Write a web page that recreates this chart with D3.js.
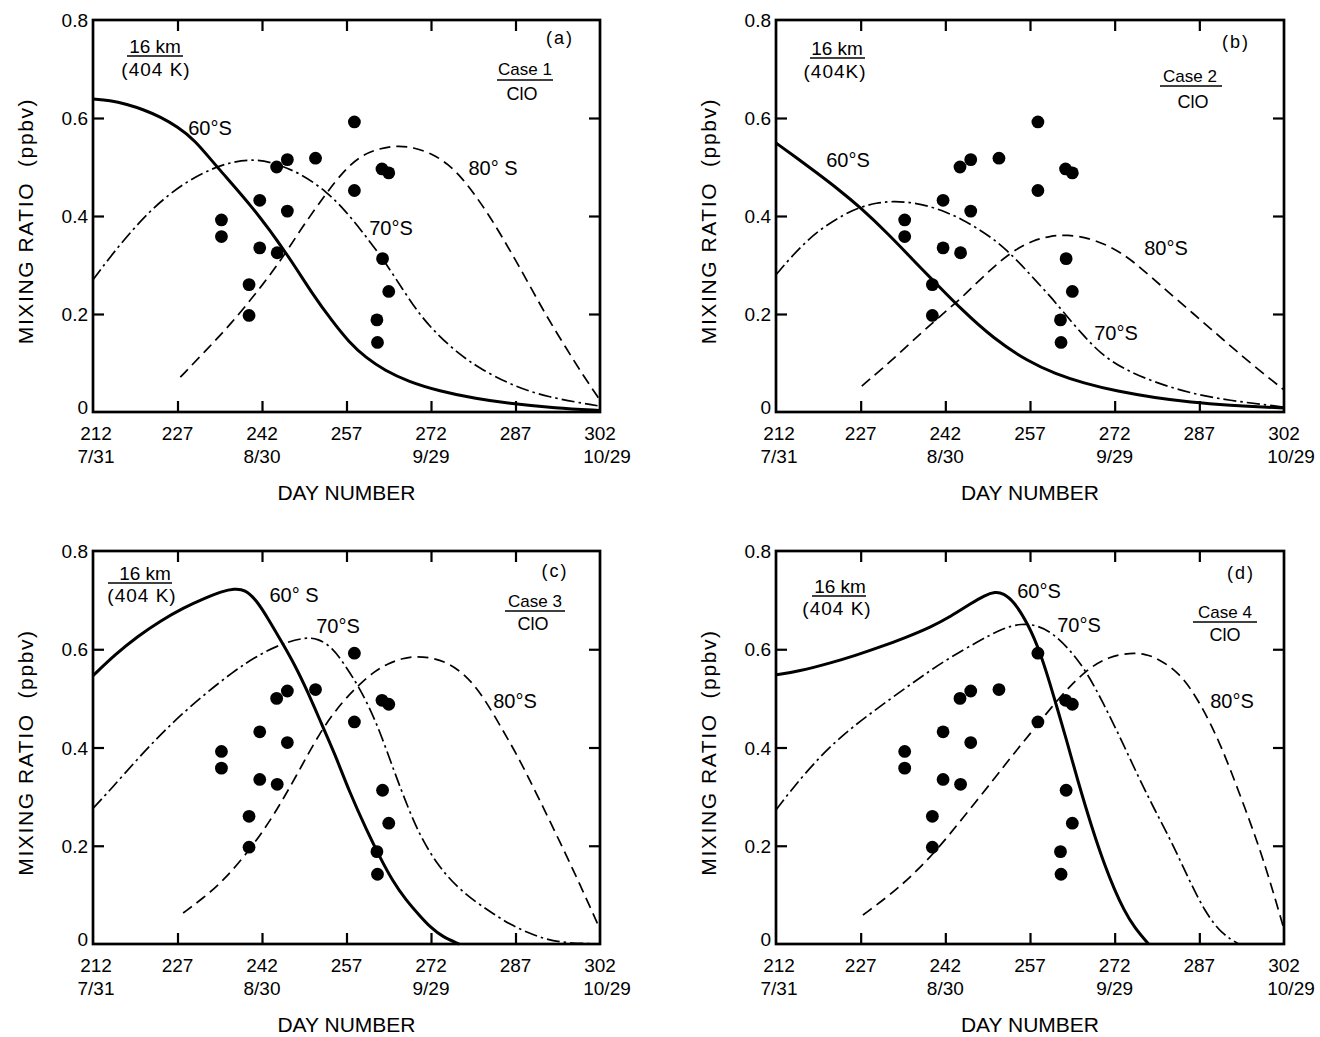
<!DOCTYPE html>
<html>
<head>
<meta charset="utf-8">
<script src="https://cdn.jsdelivr.net/npm/d3@7"></script>
<style>
  html, body { margin: 0; padding: 0; background: #fff; }
  svg text { font-family: "Liberation Sans", "DejaVu Sans", sans-serif; fill: #000; }
</style>
</head>
<body>
<svg id="chart" width="1320" height="1037"></svg>
<script>
// ---- axis ticks ----
const dayTicks = [212, 227, 242, 257, 272, 287, 302];
const dateTicks = [212, 242, 272, 302];
const dateLabels = ["7/31", "8/30", "9/29", "10/29"];
const ratioTicks = [0, 0.2, 0.4, 0.6, 0.8];
const ratioLabels = ["0", "0.2", "0.4", "0.6", "0.8"];

// ---- ClO observations (day number, ppbv), same in every panel ----
const cloDays   = [234.8, 234.8, 239.7, 239.7, 241.6, 241.6, 244.6, 244.7, 246.5, 246.5, 251.5, 258.4, 258.4, 263.3, 264.5, 263.4, 264.5, 262.4, 262.5];
const cloValues = [0.392, 0.358, 0.260, 0.197, 0.432, 0.335, 0.500, 0.325, 0.515, 0.410, 0.518, 0.592, 0.452, 0.496, 0.488, 0.313, 0.246, 0.188, 0.142];

// ---- model curves: Case 1 ----
const case1Lat60 = [[212,0.639],[215,0.636],[218,0.628],[221,0.617],[224,0.602],[227,0.582],[230,0.556],[234,0.500],[240.4,0.418],[246.5,0.322],[251.1,0.238],[254.5,0.185],[257.4,0.143],[260.5,0.110],[263.8,0.085],[268,0.062],[273.4,0.043],[280,0.027],[286.2,0.017],[294,0.008],[302,0.003]];
const case1Lat70 = [[212,0.270],[215,0.316],[218.5,0.365],[222.1,0.410],[225.5,0.444],[229.2,0.474],[233,0.496],[236.5,0.510],[240.4,0.516],[244,0.509],[248.7,0.488],[253.5,0.450],[257,0.408],[260,0.365],[263.5,0.312],[267,0.250],[270,0.198],[273.4,0.155],[277,0.118],[280.5,0.090],[286.2,0.055],[292.6,0.030],[302,0.012]];
const case1Lat80 = [[227.5,0.071],[232,0.125],[236.5,0.180],[241,0.243],[245.4,0.310],[249,0.375],[253.5,0.448],[256.5,0.492],[259.4,0.522],[262.5,0.537],[265.9,0.544],[269,0.540],[272.4,0.526],[275,0.506],[277.5,0.478],[280,0.440],[282.5,0.398],[285,0.350],[287.5,0.300],[290,0.248],[292.6,0.194],[296,0.130],[299,0.075],[302,0.024]];

// ---- Case 2 ----
const case2Lat60 = [[212,0.549],[215.5,0.520],[219,0.490],[223,0.455],[226.9,0.418],[232,0.362],[236.3,0.310],[240.3,0.263],[244.8,0.210],[250.5,0.150],[256.8,0.102],[261.5,0.078],[266.4,0.059],[272.5,0.042],[279.2,0.029],[285.5,0.020],[291.9,0.014],[302,0.008]];
const case2Lat70 = [[212,0.280],[214.5,0.314],[217.5,0.350],[220.5,0.378],[224,0.403],[226.9,0.418],[229.8,0.427],[232.7,0.430],[236,0.428],[239.5,0.419],[242.3,0.407],[245,0.393],[247.5,0.376],[250.3,0.355],[252.9,0.330],[255.5,0.300],[258,0.268],[260.6,0.236],[263.2,0.200],[266.3,0.158],[269.6,0.118],[273.5,0.088],[279.2,0.060],[285.5,0.038],[291.9,0.024],[302,0.010]];
const case2Lat80 = [[227.2,0.053],[232,0.100],[237.7,0.161],[241.5,0.200],[244.8,0.232],[248.3,0.272],[251.7,0.308],[254.5,0.332],[257.5,0.350],[260.5,0.359],[263.6,0.362],[267.5,0.355],[271.2,0.338],[274,0.318],[276,0.300],[278.5,0.275],[281,0.250],[286,0.200],[291,0.150],[296,0.100],[302,0.045]];

// ---- Case 3 ----
const case3Lat60 = [[212,0.546],[216,0.590],[220,0.627],[224,0.658],[228,0.684],[232,0.705],[235,0.718],[237,0.723],[239,0.722],[241,0.700],[243,0.664],[245.7,0.611],[248,0.564],[250,0.516],[252.5,0.450],[255,0.385],[257.5,0.310],[260.6,0.231],[263,0.175],[265.1,0.130],[267.5,0.090],[270.2,0.055],[272,0.033],[274,0.015],[277,0.0]];
const case3Lat70 = [[212,0.276],[215,0.313],[220,0.378],[225.1,0.440],[230.8,0.499],[236.8,0.554],[241.6,0.590],[245.7,0.612],[249.5,0.624],[252,0.622],[254.5,0.603],[256.6,0.570],[259.4,0.520],[262.4,0.450],[265.5,0.350],[268,0.275],[270.2,0.217],[273.2,0.160],[276.6,0.116],[280,0.085],[283,0.062],[286,0.040],[289.4,0.022],[292.5,0.009],[296,0.002],[302,0.0]];
const case3Lat80 = [[228,0.063],[231.5,0.093],[235.3,0.130],[240.2,0.197],[244,0.260],[248,0.340],[252.3,0.432],[256,0.490],[259.4,0.530],[262,0.555],[264.2,0.570],[267,0.582],[269.5,0.586],[272.5,0.582],[275.4,0.570],[278,0.548],[280.5,0.516],[283,0.470],[285.5,0.420],[287.5,0.380],[291,0.300],[295,0.205],[298.5,0.120],[302,0.030]];

// ---- Case 4 ----
const case4Lat60 = [[212,0.548],[216,0.555],[221.7,0.572],[226,0.587],[230.6,0.605],[235,0.624],[239.4,0.645],[243,0.667],[246.5,0.693],[249,0.710],[250.8,0.717],[252.3,0.714],[254.1,0.698],[256.6,0.653],[258.9,0.592],[261.2,0.505],[263.6,0.410],[265.4,0.335],[268,0.235],[270.4,0.155],[272,0.110],[273.6,0.070],[275.5,0.033],[278,0.0]];
const case4Lat70 = [[212,0.273],[215,0.318],[220,0.385],[225,0.437],[230,0.480],[236,0.530],[242,0.578],[248,0.617],[252,0.642],[255.5,0.653],[258.5,0.648],[261,0.633],[264,0.600],[267,0.555],[270,0.490],[273,0.420],[276,0.345],[279,0.275],[282,0.210],[285,0.135],[288,0.065],[291,0.020],[294,0.0]];
const case4Lat80 = [[227.4,0.059],[232,0.098],[236,0.138],[240.5,0.191],[245,0.255],[250.5,0.334],[254,0.386],[257.6,0.436],[262.4,0.505],[267.1,0.560],[271,0.585],[274.8,0.593],[277.5,0.590],[279.5,0.582],[283.6,0.552],[287.2,0.490],[290.7,0.409],[294,0.310],[297.4,0.205],[300,0.110],[302,0.030]];

// ---- panel layout (plot-area box in pixels) and annotation placement ----
const panels = [
  { box: [93, 20, 600, 412], tag: "(a)", caseName: "Case 1", lines: [case1Lat60, case1Lat70, case1Lat80],
    ann: { km: [62, 33], kmBar: [34, 90, 36], kelvin: [63, 56], kelvinText: "(404 K)",
           tag: [467, 24], caseT: [432, 55], caseBar: [404, 460, 60], clo: [429, 80],
           l60: [117, 115, "60°S"], l70: [298, 215, "70°S"], l80: [400, 155, "80° S"] } },
  { box: [776, 20, 1284, 412], tag: "(b)", caseName: "Case 2", lines: [case2Lat60, case2Lat70, case2Lat80],
    ann: { km: [61, 35], kmBar: [34, 89, 38], kelvin: [59, 58], kelvinText: "(404K)",
           tag: [460, 28], caseT: [414, 62], caseBar: [384, 446, 66], clo: [417, 88],
           l60: [72, 147, "60°S"], l70: [340, 320, "70°S"], l80: [390, 235, "80°S"] } },
  { box: [93, 551, 600, 944], tag: "(c)", caseName: "Case 3", lines: [case3Lat60, case3Lat70, case3Lat80],
    ann: { km: [52, 29], kmBar: [15, 79, 32], kelvin: [49, 51], kelvinText: "(404 K)",
           tag: [462, 26], caseT: [442, 56], caseBar: [412, 472, 60], clo: [440, 79],
           l60: [201, 51, "60° S"], l70: [245, 82, "70°S"], l80: [422, 157, "80°S"] } },
  { box: [776, 551, 1284, 944], tag: "(d)", caseName: "Case 4", lines: [case4Lat60, case4Lat70, case4Lat80],
    ann: { km: [64, 42], kmBar: [36, 90, 45], kelvin: [61, 64], kelvinText: "(404 K)",
           tag: [465, 28], caseT: [449, 67], caseBar: [417, 481, 71], clo: [449, 90],
           l60: [263, 47, "60°S"], l70: [303, 81, "70°S"], l80: [456, 157, "80°S"] } }
];

// line styles for the three latitudes
const lineStyles = [
  { width: 3.0, dash: null },          // 60°S solid
  { width: 1.7, dash: "13,4,2.5,4" },  // 70°S dash-dot
  { width: 1.7, dash: "11,6" }         // 80°S dashed
];

const svg = d3.select("#chart");

panels.forEach(p => {
  const [x0, y0, x1, y1] = p.box;
  const x = d3.scaleLinear().domain([212, 302]).range([x0, x1]);
  const y = d3.scaleLinear().domain([0, 0.8]).range([y1, y0]);
  const g = svg.append("g");

  // inward ticks on all four sides
  const inner = ratioTicks.filter(v => v > 0 && v < 0.8);
  const innerDays = dayTicks.filter(v => v > 212 && v < 302);
  g.append("g").attr("transform", `translate(0,${y1})`)
    .call(d3.axisBottom(x).tickValues(innerDays).tickSize(-11).tickFormat(""));
  g.append("g").attr("transform", `translate(0,${y0})`)
    .call(d3.axisTop(x).tickValues(innerDays).tickSize(-11).tickFormat(""));
  g.append("g").attr("transform", `translate(${x0},0)`)
    .call(d3.axisLeft(y).tickValues(inner).tickSize(-11).tickFormat(""));
  g.append("g").attr("transform", `translate(${x1},0)`)
    .call(d3.axisRight(y).tickValues(inner).tickSize(-11).tickFormat(""));
  g.selectAll(".domain").remove();
  g.selectAll(".tick line").attr("stroke", "#000").attr("stroke-width", 2.2);

  // frame
  g.append("rect")
    .attr("x", x0).attr("y", y0).attr("width", x1 - x0).attr("height", y1 - y0)
    .attr("fill", "none").attr("stroke", "#000").attr("stroke-width", 2.7);

  // y tick labels
  g.selectAll(".ylab").data(ratioTicks).join("text")
    .attr("x", x0 - 5).attr("y", d => y(d) + (d === 0 ? 2 : 7))
    .attr("text-anchor", "end").attr("font-size", 19)
    .text((d, i) => ratioLabels[i]);

  // x tick labels: day numbers and calendar dates
  g.selectAll(".xlab").data(dayTicks).join("text")
    .attr("x", d => x(d) + (d === 212 ? 3 : 0)).attr("y", y1 + 28)
    .attr("text-anchor", "middle").attr("font-size", 19)
    .text(d => d);
  g.selectAll(".dlab").data(dateTicks).join("text")
    .attr("x", d => x(d) + (d === 302 ? 7 : d === 212 ? 3 : 0)).attr("y", y1 + 51)
    .attr("text-anchor", "middle").attr("font-size", 19)
    .text((d, i) => dateLabels[i]);

  // axis titles
  g.append("text")
    .attr("x", (x0 + x1) / 2).attr("y", y1 + 88)
    .attr("text-anchor", "middle").attr("font-size", 21)
    .text("DAY NUMBER");
  g.append("text")
    .attr("transform", `translate(${x0 - 60},${(y0 + y1) / 2 + 5}) rotate(-90)`)
    .attr("text-anchor", "middle").attr("font-size", 21)
    .attr("letter-spacing", 1.6)
    .style("white-space", "pre")
    .text("MIXING RATIO  (ppbv)");

  // model curves
  const line = d3.line().x(d => x(d[0])).y(d => y(d[1])).curve(d3.curveBasis);
  p.lines.forEach((series, i) => {
    g.append("path").datum(series)
      .attr("d", line)
      .attr("fill", "none").attr("stroke", "#000")
      .attr("stroke-width", lineStyles[i].width)
      .attr("stroke-linejoin", "round")
      .attr("stroke-dasharray", lineStyles[i].dash);
  });

  // observations
  g.selectAll(".obs").data(cloDays).join("circle")
    .attr("cx", d => x(d)).attr("cy", (d, i) => y(cloValues[i]))
    .attr("r", 6.4).attr("fill", "#000");

  // annotations
  const a = p.ann;
  const put = (pos, str, size, spacing) => g.append("text")
    .attr("x", x0 + pos[0]).attr("y", y0 + pos[1])
    .attr("text-anchor", "middle").attr("font-size", size)
    .attr("letter-spacing", spacing || 0).text(str);
  const bar = (b, w) => g.append("line")
    .attr("x1", x0 + b[0]).attr("x2", x0 + b[1]).attr("y1", y0 + b[2]).attr("y2", y0 + b[2])
    .attr("stroke", "#000").attr("stroke-width", w);

  put(a.km, "16 km", 19);
  bar(a.kmBar, 1.7);
  put(a.kelvin, a.kelvinText, 19, 1);
  put(a.tag, p.tag, 18, 2);
  put(a.caseT, p.caseName, 17);
  bar(a.caseBar, 1.7);
  put(a.clo, "ClO", 18);
  put(a.l60, a.l60[2], 20);
  put(a.l70, a.l70[2], 20);
  put(a.l80, a.l80[2], 20);
});
</script>
</body>
</html>
